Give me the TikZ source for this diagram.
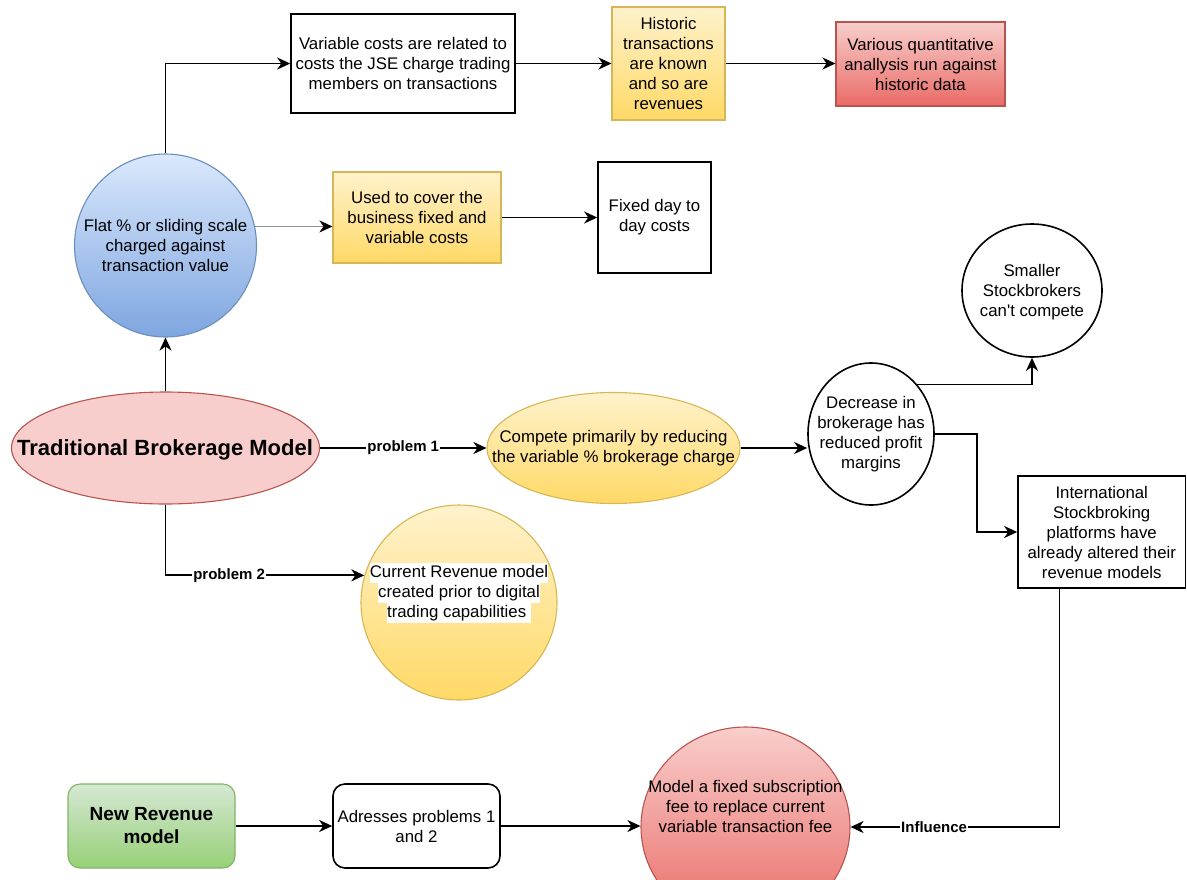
\documentclass[tikz,border=0pt]{standalone}
\usepackage{fontspec}
\setmainfont{Liberation Sans}[Ligatures=TeXOff]
\usetikzlibrary{shapes.geometric,arrows.meta,calc}

\definecolor{blueTop}{HTML}{DAE8FC}
\definecolor{blueBot}{HTML}{7EA6E0}
\definecolor{blueLine}{HTML}{6C8EBF}
\definecolor{yelTop}{HTML}{FFF2CC}
\definecolor{yelBot}{HTML}{FFD966}
\definecolor{yelLine}{HTML}{D6B656}
\definecolor{redTop}{HTML}{F8CECC}
\definecolor{redBot}{HTML}{EA6B66}
\definecolor{redLine}{HTML}{B85450}
\definecolor{grnTop}{HTML}{D5E8D4}
\definecolor{grnBot}{HTML}{97D077}
\definecolor{grnLine}{HTML}{82B366}

\newcommand\whitebg[1]{{\fboxsep=0pt\colorbox{white}{\strut #1}}}

\tikzset{
  txt/.style={font=\fontsize{16.8}{20}\selectfont, align=center, inner sep=0pt, text=black},
  lbl/.style={font=\bfseries\fontsize{15}{18}\selectfont, fill=white, inner sep=1pt, text=black},
  plainbox/.style={rectangle, draw=black, line width=1.6pt, fill=white, inner sep=0pt,
    font=\fontsize{16.8}{20}\selectfont, align=center},
  roundbox/.style={plainbox, rounded corners=12pt},
  oval/.style={ellipse, inner sep=0pt, line width=1.1pt},
  blueshade/.style={draw=blueLine, top color=blueTop, bottom color=blueBot},
  yelshade/.style={draw=yelLine, top color=yelTop, bottom color=yelBot},
  redshade/.style={draw=redLine, top color=redTop, bottom color=redBot},
  grnshade/.style={draw=grnLine, top color=grnTop, bottom color=grnBot},
  conn/.style={line width=1.8pt, -{Stealth[length=13pt,width=12pt,inset=4pt,color=black]}},
}

\begin{document}
\begin{tikzpicture}[x=1pt,y=-1pt]
\useasboundingbox (0,0) rectangle (1187,879);

% ---- upper branch: fee structure ----
\node[plainbox, minimum width=224, minimum height=99] (varc) at (403,63.5)
  {Variable costs are related to\\costs the JSE charge trading\\members on transactions};
\node[rectangle, yelshade, line width=1.1pt, minimum width=113, minimum height=113,
  inner sep=0pt, font=\fontsize{16.8}{20}\selectfont, align=center] (hist) at (668.5,63.5)
  {Historic\\transactions\\are known\\and so are\\revenues};
\node[rectangle, redshade, line width=1.1pt, minimum width=169, minimum height=84,
  inner sep=0pt, font=\fontsize{16.8}{20}\selectfont, align=center] (quant) at (920.5,64)
  {Various quantitative\\anallysis run against\\historic data};

\node[oval, blueshade, minimum width=182, minimum height=183] (flat) at (165.5,245.5) {};
\node[txt] (flat-t) at (flat.center) {Flat \% or sliding scale\\charged against\\transaction value};

\node[rectangle, yelshade, line width=1.1pt, minimum width=168, minimum height=91,
  inner sep=0pt, font=\fontsize{16.8}{20}\selectfont, align=center] (used) at (417,217.5)
  {Used to cover the\\business fixed and\\variable costs};
\node[plainbox, minimum width=113, minimum height=111] (fixed) at (654.5,217.5)
  {Fixed day to\\day costs};

% ---- middle: traditional model and its problems ----
\node[oval, draw=redLine, fill=redTop, minimum width=308, minimum height=112] (trad) at (165.5,448) {};
\node[font=\bfseries\fontsize{22}{26}\selectfont, inner sep=0pt] (trad-t) at (165,450)
  {Traditional Brokerage Model};

\node[oval, yelshade, minimum width=253, minimum height=111] (comp) at (613.5,448) {};
\node[txt] (comp-t) at (comp.center) {Compete primarily by reducing\\the variable \% brokerage charge};

\node[oval, draw=black, line width=1.6pt, fill=white, minimum width=126, minimum height=142] (decr) at (871,434) {};
\node[txt] (decr-t) at (decr.center) {Decrease in\\brokerage has\\reduced profit\\margins};

\node[oval, draw=black, line width=1.6pt, fill=white, minimum width=140, minimum height=133] (small) at (1032,290.5) {};
\node[txt] (small-t) at (1032,292) {Smaller\\Stockbrokers\\can't compete};

\node[plainbox, minimum width=167.5, minimum height=112] (intl) at (1101.75,532)
  {International\\Stockbroking\\platforms have\\already altered their\\revenue models};

\node[oval, yelshade, minimum width=196, minimum height=195] (curr) at (459,602.5) {};
\node[txt] (curr-t) at (459,593)
  {\whitebg{Current Revenue model}\\\whitebg{created prior to digital}\\\whitebg{trading capabilities\ }};

% ---- bottom: new revenue model ----
\node[rectangle, rounded corners=12pt, grnshade, line width=1.1pt, minimum width=167, minimum height=84,
  inner sep=0pt, font=\bfseries\fontsize{19}{23}\selectfont, align=center] (newm) at (151.5,826)
  {New Revenue\\model};
\node[roundbox, minimum width=167, minimum height=84] (addr) at (416.5,826)
  {Adresses problems 1\\and 2};
\node[oval, redshade, minimum width=209, minimum height=200] (model) at (745.5,827) {};
\node[txt] (model-t) at (745.5,806)
  {Model a fixed subscription\\fee to replace current\\variable transaction fee};

% ---- connectors ----
\draw[conn] (trad.north) -- (trad.north |- flat.south);
\draw[conn] (flat.north) |- (varc.west);
\draw[conn, draw=gray!85, line width=1.4pt] (flat.12) -- (flat.12 -| used.west);
\draw[conn] (used.east) -- (fixed.west);
\draw[conn] (varc.east) -- (hist.west);
\draw[conn] (hist.east) -- (hist.east -| quant.west);
\draw[conn] (trad.east) -- (trad.east -| comp.west) node[lbl, pos=0.5] {problem 1};
\draw[conn] (trad.south) |- (curr.164) node[lbl, pos=0.66] {problem 2};
\draw[conn] (comp.east) -- (comp.east -| decr.west);
\draw[conn] (decr.47) -| (small.south);
\draw[conn] (decr.east) -- ++(42,0) |- (intl.west);
\draw[conn] ($(intl.south west)!0.25!(intl.south east)$) |- (model.east)
  node[lbl, pos=0.80] {Influence};
\draw[conn] (newm.east) -- (addr.west);
\draw[conn] (addr.east) -- (addr.east -| model.west);
\end{tikzpicture}
\end{document}
